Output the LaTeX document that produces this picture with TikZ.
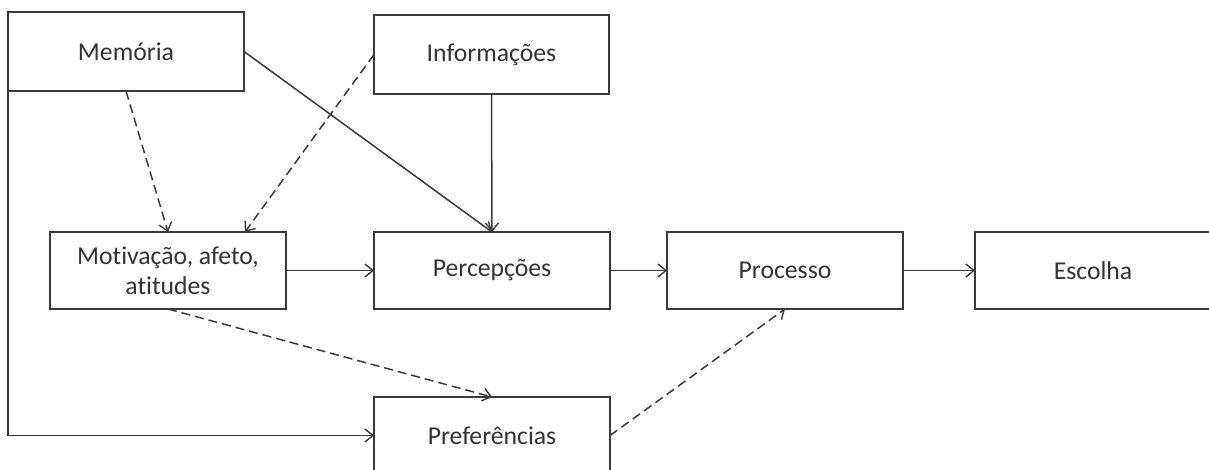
\documentclass[tikz,border=0pt]{standalone}
\usepackage{fontspec}
\setmainfont{Carlito}[Ligatures=NoCommon]
\usetikzlibrary{arrows.meta}
\definecolor{ink}{HTML}{3A3A3A}
\definecolor{txt}{HTML}{333333}
\begin{document}
\begin{tikzpicture}[x=1pt,y=-1pt,
  box/.style={draw=ink, line width=1.6pt, rectangle, inner sep=0pt, outer sep=0pt,
    minimum width=236pt, minimum height=78pt, align=center, text=txt,
    font=\fontsize{25.7}{30}\selectfont},
  arr/.style={draw=ink, line width=1.5pt, -{Straight Barb[length=8pt,width=13pt,line width=1.4pt]}},
  dashedarr/.style={arr, dash pattern=on 9pt off 5pt}]
\useasboundingbox (0,0) rectangle (1209,470);
\clip (0,0) rectangle (1209,470);

% boxes
\node[box, minimum height=79pt] (mem)  at (126,51.5)   {Memória};
\node[box, minimum height=79pt, minimum width=235pt] (info) at (491.5,54.5) {Informações};
\node[box, minimum height=77pt] (mot)  at (168,270.5)  {Motivação, afeto,\\atitudes};
\node[box, minimum height=77pt] (perc) at (492,270.5)  {Percepções};
\node[box, minimum height=77pt] (proc) at (785,270.5)  {Processo};
\node[box, minimum height=77pt] (esc)  at (1093,270.5) {Escolha};
\node[box, minimum height=77pt] (pref) at (492,435.5)  {Preferências};

% solid connectors
\draw[arr] (mem.south west) |- (pref.west);
\draw[arr] (mem.east) -- (perc.north);
\draw[arr] (info.south) -- (perc.north);
\draw[arr] (mot.east) -- (perc.west);
\draw[arr] (perc.east) -- (proc.west);
\draw[arr] (proc.east) -- (esc.west);

% dashed connectors
\draw[dashedarr] (mem.south) -- (mot.north);
\draw[dashedarr] (info.west) -- ([xshift=-41pt]mot.north east);
\draw[dashedarr] (mot.south) -- (pref.north);
\draw[dashedarr] (pref.east) -- (proc.south);
\end{tikzpicture}
\end{document}
